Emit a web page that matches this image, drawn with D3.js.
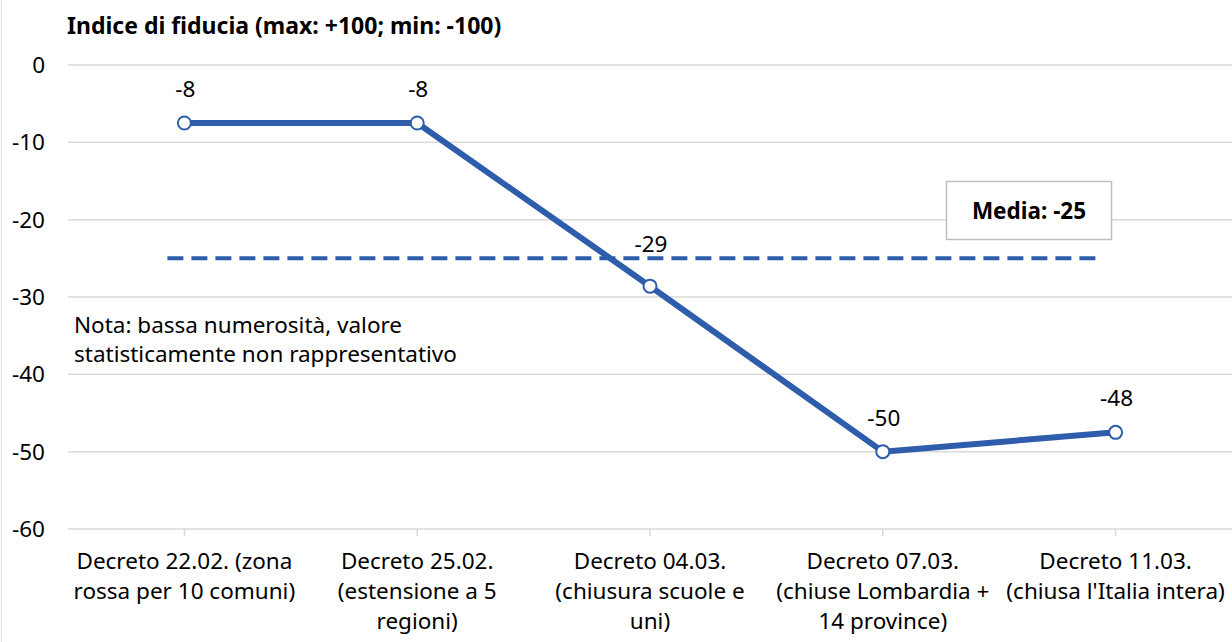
<!DOCTYPE html>
<html>
<head>
<meta charset="utf-8">
<script src="https://cdn.jsdelivr.net/npm/d3@7"></script>
<style>
  body { margin: 0; background: #fff; }
  svg { display: block; font-family: "Noto Sans", sans-serif; }
</style>
</head>
<body>
<svg id="chart" width="1232" height="642"></svg>
<script>
// data
const categories = [
  ["Decreto 22.02. (zona", "rossa per 10 comuni)"],
  ["Decreto 25.02.", "(estensione a 5", "regioni)"],
  ["Decreto 04.03.", "(chiusura scuole e", "uni)"],
  ["Decreto 07.03.", "(chiuse Lombardia +", "14 province)"],
  ["Decreto 11.03.", "(chiusa l'Italia intera)"]
];
const values = [-7.5, -7.5, -28.6, -50, -47.5];
const valueLabels = ["-8", "-8", "-29", "-50", "-48"];
const mean = -25;
const yTicks = [0, -10, -20, -30, -40, -50, -60];

const blue = "#2E5DAB";
const fontSize = "22.5px";
const margin = {top: 65, right: 0, bottom: 113, left: 68};
const width = 1232, height = 642;

const svg = d3.select("#chart");

// faint chart frame on the left
svg.append("line")
    .attr("x1", 1.5).attr("x2", 1.5)
    .attr("y1", 0).attr("y2", height)
    .style("stroke", "#e0e0e0");

const x = d3.scaleBand()
    .domain(d3.range(categories.length))
    .range([margin.left, width - margin.right]);

const y = d3.scaleLinear()
    .domain([-60, 0])
    .range([height - margin.bottom, margin.top]);

// gridlines
svg.append("g")
    .selectAll("line")
    .data(yTicks)
    .enter()
    .append("line")
    .attr("x1", margin.left)
    .attr("x2", width)
    .attr("y1", d => y(d))
    .attr("y2", d => y(d))
    .style("stroke", "#d9d9d9")
    .style("stroke-width", 1.5);

// y tick labels
svg.append("g")
    .selectAll("text")
    .data(yTicks)
    .enter()
    .append("text")
    .attr("x", 45)
    .attr("y", d => y(d) + 8)
    .attr("text-anchor", "end")
    .style("font-size", fontSize)
    .style("fill", "#000")
    .text(d => d);

// x ticks at category centers
const cx = i => x(i) + x.bandwidth() / 2;
svg.append("g")
    .selectAll("line")
    .data(categories)
    .enter()
    .append("line")
    .attr("x1", (d, i) => cx(i))
    .attr("x2", (d, i) => cx(i))
    .attr("y1", y(-60))
    .attr("y2", y(-60) + 7)
    .style("stroke", "#d9d9d9")
    .style("stroke-width", 1.5);

// category labels
const catLabels = svg.append("g")
    .selectAll("text")
    .data(categories)
    .enter()
    .append("text")
    .attr("text-anchor", "middle")
    .style("font-size", fontSize)
    .style("fill", "#000");

catLabels.each(function(lines, i) {
    d3.select(this).selectAll("tspan")
        .data(lines)
        .enter()
        .append("tspan")
        .attr("x", cx(i))
        .attr("y", (d, j) => y(-60) + 40 + j * 30)
        .text(d => d);
});

// mean dashed line
svg.append("line")
    .attr("x1", cx(0) - 17)
    .attr("x2", cx(4) - 13)
    .attr("y1", y(mean))
    .attr("y2", y(mean))
    .style("stroke", blue)
    .style("stroke-width", 4)
    .style("stroke-dasharray", "16,8");

// main line
const line = d3.line()
    .x((d, i) => cx(i))
    .y(d => y(d));

svg.append("path")
    .datum(values)
    .attr("d", line)
    .style("fill", "none")
    .style("stroke", blue)
    .style("stroke-width", 6)
    .style("stroke-linejoin", "round");

svg.append("g")
    .selectAll("circle")
    .data(values)
    .enter()
    .append("circle")
    .attr("cx", (d, i) => cx(i))
    .attr("cy", d => y(d))
    .attr("r", 6.5)
    .style("fill", "#fff")
    .style("stroke", blue)
    .style("stroke-width", 2);

// data labels, lifted above the mean line where they would collide
function labelY(d) {
    let ly = y(d) - 26;
    if (ly > y(mean) - 20 && ly < y(mean) + 20) ly = y(mean) - 6;
    return ly;
}
svg.append("g")
    .selectAll("text")
    .data(values)
    .enter()
    .append("text")
    .attr("x", (d, i) => cx(i) + 1)
    .attr("y", d => labelY(d))
    .attr("text-anchor", "middle")
    .style("font-size", fontSize)
    .style("fill", "#000")
    .text((d, i) => valueLabels[i]);

// mean label box
svg.append("rect")
    .attr("x", 946.5)
    .attr("y", 181.5)
    .attr("width", 165)
    .attr("height", 58)
    .style("fill", "#fff")
    .style("stroke", "#bfbfbf")
    .style("stroke-width", 1.5);

svg.append("text")
    .attr("x", 1029)
    .attr("y", 219)
    .attr("text-anchor", "middle")
    .style("font-size", "22.5px")
    .style("font-weight", "bold")
    .text("Media: " + mean);

// title
svg.append("text")
    .attr("x", 67)
    .attr("y", 34)
    .style("font-size", "23px")
    .style("font-weight", "bold")
    .text("Indice di fiducia (max: +100; min: -100)");

// note
svg.append("text")
    .style("font-size", fontSize)
    .selectAll("tspan")
    .data(["Nota: bassa numerosità, valore", "statisticamente non rappresentativo"])
    .enter()
    .append("tspan")
    .attr("x", 74)
    .attr("y", (d, i) => 333 + i * 29)
    .text(d => d);
</script>
</body>
</html>
